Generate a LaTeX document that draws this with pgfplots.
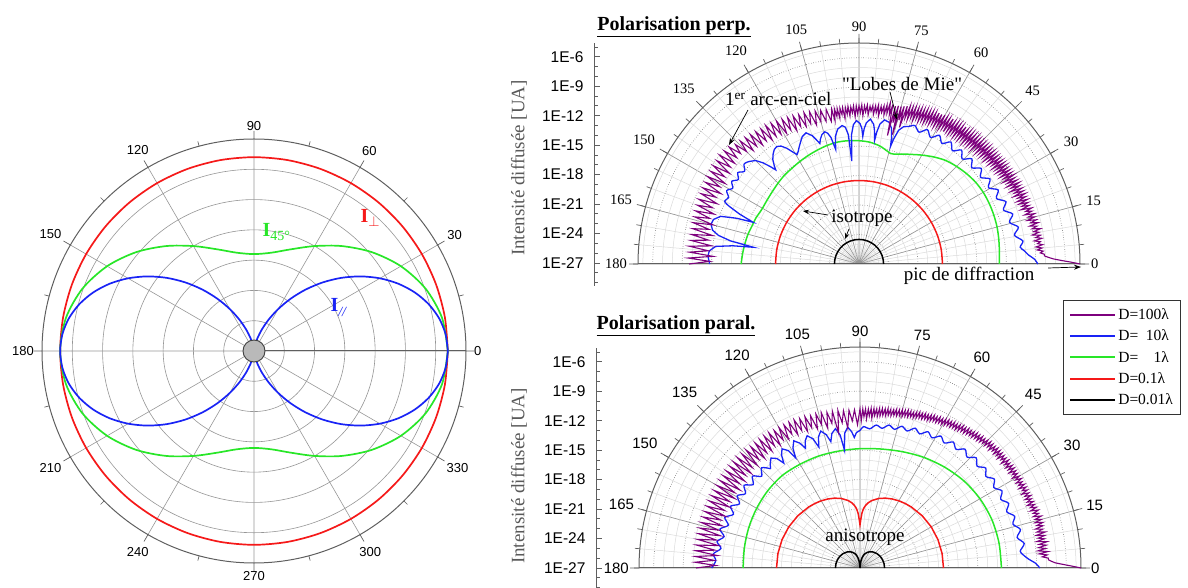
\documentclass[border=0pt]{standalone}
\usepackage{pgfplots}
\pgfplotsset{compat=1.18}
\usepgfplotslibrary{polar}
\usetikzlibrary{arrows.meta}
\usepackage{fontspec}
\setmainfont{Liberation Serif}
\newfontfamily\arial{Liberation Sans}
\definecolor{cPurple}{RGB}{125,0,125}
\definecolor{cBlue}{RGB}{25,35,245}
\definecolor{cGreen}{RGB}{40,230,40}
\definecolor{cRed}{RGB}{245,25,25}
\definecolor{cGrid}{RGB}{150,150,150}
\definecolor{cLight}{RGB}{218,218,218}
\definecolor{cAxis}{RGB}{95,95,95}
\pgfplotsset{
  halfpolar/.style={
    scale only axis, width=442pt, height=442pt, anchor=origin,
    xmin=0, xmax=180, ymin=0, ymax=22.5,
    xtick={0,15,...,180}, minor xtick={0,5,...,180},
    ytick={3,6,...,21}, minor ytick={1,2,4,5,7,8,10,11,13,14,16,17,19,20,22},
    yticklabel style={opacity=0, text opacity=0},
    grid=both,
    major x grid style={draw=cGrid, line width=0.6pt},
    minor x grid style={draw=cLight, line width=0.5pt},
    major y grid style={draw=black!65, dotted, line width=0.7pt},
    minor y grid style={draw=cLight, line width=0.5pt},
    axis line style={draw=cAxis, line width=1pt},
    tick align=inside, major tick length=9pt, minor tick length=5pt,
    xtick style={draw=cAxis, line width=0.7pt},
    ytick style={draw=none},
    /pgf/number format/assume math mode=true,
    clip=false,
  },
  logaxis/.style={
    anchor=south west, scale only axis, width=20pt,
    xmin=0, xmax=1,
    axis x line=none, axis y line=left,
    y axis line style={-, draw=cAxis, line width=0.8pt},
    ytick={-27,-24,...,-6},
    yticklabels={1E-27,1E-24,1E-21,1E-18,1E-15,1E-12,1E-9,1E-6},
    minor ytick={-29,...,-5},
    tick align=inside, major tick length=6pt, minor tick length=3.5pt,
    ytick style={draw=cAxis, line width=0.8pt},
    yticklabel style={font=\arial\fontsize{15.5}{15.5}\selectfont, xshift=-7pt},
  },
}
\begin{document}
\begin{tikzpicture}[x=1pt,y=1pt]
\path[use as bounding box] (0,0) rectangle (1188,588);

% ---------------- left polar ----------------
\begin{polaraxis}[
  at={(254pt,237pt)}, anchor=origin, scale only axis, width=424pt, height=424pt,
  ymin=0, ymax=7, ytick={1,...,6}, yticklabel style={opacity=0, text opacity=0}, ytick style={draw=none},
  xtick={0,30,...,330}, minor xtick={15,45,...,345},
  grid=major, major grid style={draw=cGrid, line width=0.6pt},
  axis line style={draw=cAxis, line width=1pt},
  tick align=inside, major tick length=8pt, minor tick length=5pt,
  xtick style={draw=cAxis, line width=0.7pt},
  xticklabel style={font=\arial\fontsize{13}{13}\selectfont, inner sep=8pt},
  /pgf/number format/assume math mode=true,
]
\addplot[cRed, line width=1.7pt, smooth] coordinates {(0,6.4)(10,6.4)(20,6.4)(30,6.4)(40,6.4)(50,6.4)(60,6.4)(70,6.4)(80,6.4)(90,6.4)(100,6.4)(110,6.4)(120,6.4)(130,6.4)(140,6.4)(150,6.4)(160,6.4)(170,6.4)(180,6.4)(190,6.4)(200,6.4)(210,6.4)(220,6.4)(230,6.4)(240,6.4)(250,6.4)(260,6.4)(270,6.4)(280,6.4)(290,6.4)(300,6.4)(310,6.4)(320,6.4)(330,6.4)(340,6.4)(350,6.4)(360,6.4)};
\addplot[cGreen, line width=1.7pt, smooth] coordinates {(0,6.4)(10,6.304)(20,6.026)(30,5.6)(40,5.078)(50,4.522)(60,4.0)(70,3.574)(80,3.296)(90,3.2)(100,3.296)(110,3.574)(120,4.0)(130,4.522)(140,5.078)(150,5.6)(160,6.026)(170,6.304)(180,6.4)(190,6.304)(200,6.026)(210,5.6)(220,5.078)(230,4.522)(240,4.0)(250,3.574)(260,3.296)(270,3.2)(280,3.296)(290,3.574)(300,4.0)(310,4.522)(320,5.078)(330,5.6)(340,6.026)(350,6.304)(360,6.4)};
\addplot[cBlue, line width=1.7pt, smooth] coordinates {(0,6.4)(5,6.351)(10,6.207)(15,5.971)(20,5.651)(25,5.257)(30,4.8)(35,4.294)(40,3.756)(45,3.2)(50,2.644)(55,2.106)(60,1.6)(65,1.143)(70,0.749)(75,0.429)(80,0.193)(85,0.049)(90,0)(95,0.049)(100,0.193)(105,0.429)(110,0.749)(115,1.143)(120,1.6)(125,2.106)(130,2.644)(135,3.2)(140,3.756)(145,4.294)(150,4.8)(155,5.257)(160,5.651)(165,5.971)(170,6.207)(175,6.351)(180,6.4)(185,6.351)(190,6.207)(195,5.971)(200,5.651)(205,5.257)(210,4.8)(215,4.294)(220,3.756)(225,3.2)(230,2.644)(235,2.106)(240,1.6)(245,1.143)(250,0.749)(255,0.429)(260,0.193)(265,0.049)(270,0)(275,0.049)(280,0.193)(285,0.429)(290,0.749)(295,1.143)(300,1.6)(305,2.106)(310,2.644)(315,3.2)(320,3.756)(325,4.294)(330,4.8)(335,5.257)(340,5.651)(345,5.971)(350,6.207)(355,6.351)(360,6.4)};
\addplot[only marks, mark=*, mark size=11pt, mark options={fill=gray!55, draw=black!75, line width=0.9pt}] coordinates {(0,0)};
\end{polaraxis}
\node[anchor=base west, text=cRed, font=\fontsize{20}{20}\selectfont\bfseries] at (357,365) {I$_{\perp}$};
\node[anchor=base west, text=cGreen, font=\fontsize{20}{20}\selectfont\bfseries] at (259,351) {I\raisebox{-0.4ex}{\fontsize{14}{14}\selectfont\mdseries 45°}};
\node[anchor=base west, text=cBlue, font=\fontsize{20}{20}\selectfont\bfseries] at (327,276) {I\raisebox{-0.45ex}{\fontsize{14}{14}\selectfont\mdseries\itshape //}};

% ---------------- top right: perpendicular ----------------
\begin{polaraxis}[halfpolar, at={(859pt,324pt)},
  xticklabel style={font=\fontsize{14.5}{14.5}\selectfont, inner sep=11pt}]
\addplot[black, line width=1.5pt, smooth] coordinates {(0,2.5)(10,2.5)(20,2.5)(30,2.5)(40,2.5)(50,2.5)(60,2.5)(70,2.5)(80,2.5)(90,2.5)(100,2.5)(110,2.5)(120,2.5)(130,2.5)(140,2.5)(150,2.5)(160,2.5)(170,2.5)(180,2.5)};
\addplot[cRed, line width=1.5pt, smooth] coordinates {(0,8.5)(10,8.5)(20,8.5)(30,8.5)(40,8.5)(50,8.5)(60,8.5)(70,8.5)(80,8.5)(90,8.5)(100,8.5)(110,8.5)(120,8.5)(130,8.5)(140,8.5)(150,8.5)(160,8.5)(170,8.5)(180,8.5)};
\addplot[cGreen, line width=1.5pt, smooth] coordinates {(0,14.3)(5,14.35)(10,14.45)(15,14.55)(20,14.6)(25,14.62)(30,14.6)(35,14.5)(40,14.3)(45,14.05)(50,13.75)(55,13.3)(60,12.8)(63,12.5)(67,12.15)(70,11.9)(72,11.75)(74,11.7)(76,11.85)(80,12.2)(85,12.45)(90,12.55)(95,12.6)(100,12.6)(105,12.5)(110,12.35)(115,12.2)(120,12.05)(125,11.9)(130,11.8)(135,11.65)(140,11.5)(145,11.4)(150,11.35)(153,11.4)(156,11.5)(160,11.55)(165,11.7)(170,11.8)(175,11.9)(180,12.0)};
\addplot[cBlue, line width=1.3pt, smooth] coordinates {(0,18.2)(1.5,17.9)(3,17.3)(4.5,16.9)(6,16.5)(8,16.85)(10.5,16.1)(13,16.65)(15.5,15.9)(18,16.45)(20.5,15.7)(23,16.25)(25.5,15.5)(28,16.05)(30.5,15.3)(33,15.9)(35.5,15.2)(38,15.8)(40.5,15.1)(43,15.7)(45.5,15.0)(48,15.6)(50.5,14.95)(53,15.55)(55.5,14.9)(58,15.45)(60.5,14.8)(63,15.35)(65.5,14.75)(68,15.2)(70,14.9)};
\addplot[cBlue, line width=1.3pt] coordinates {(70,14.9)(72,14.7)(73.5,14.2)(74.5,13.2)(75,12.4)(75.5,13.2)(76.5,14.2)(78,14.75)(80,14.9)(81.5,14.4)(82.3,13.6)(82.8,12.7)(83.3,13.6)(84,14.3)(85.5,14.8)(87,14.4)(87.8,13.8)(88.3,13.0)(88.8,13.8)(89.6,14.3)(91,14.6)(92.3,14.2)(93.3,13.2)(94,10.5)(94.7,13.2)(95.7,14.0)(97,14.2)(99,13.9)(100.5,13.2)(101.5,11.9)(102.5,13.2)(103.5,13.7)(104.5,13.9)(106,13.7)(107.2,13.3)(108,12.9)(108.8,13.3)(110,13.9)(112,14.4)(114,14.2)(115.5,13.8)(117,13.4)(118.5,13.0)(119.5,12.8)(120.5,13.2)(122,13.9)(123.5,14.4)(125,14.6)(126.5,14.5)(128,14.2)(129.5,13.8)(130.8,13.2)(131.5,12.8)(132.3,13.4)(133.5,14.2)(135,14.9)(137,15.3)};
\addplot[cBlue, line width=1.3pt, smooth] coordinates {(137,15.3)(139,15.5)(141,15.0)(143,15.45)(145,15.0)(147,15.45)(149,15.0)(151,15.4)(153,14.9)(155,15.1)(156,14.5)};
\addplot[cBlue, line width=1.3pt] coordinates {(156,14.5)(157.3,13.2)(158.5,11.6)(159.5,13.3)(161,14.9)(163,15.5)(165,15.6)(167,15.3)(168.5,14.6)(169.8,13.3)(171,10.9)(171.8,13.0)(173,14.7)(175,15.3)(177,15.4)(180,15.2)};
\addplot[cPurple, line width=1.1pt] coordinates {(0,22.5)(0.5,21.6)(1,20.6)(1.5,19.8)(2,19.3)(2.5,18.9)(3,18.9)(3.5,18.5)(4,18.8)(4.5,18.2)(5,18.7)(5.5,18.1)(6,18.8)(6.5,18.3)(7,18.6)(7.5,18.0)(8,18.8)(8.5,18.2)(9,18.7)(9.5,17.9)(10,18.6)(10.5,18.1)(11,18.8)(11.5,18.0)(12,18.5)(12.5,17.8)(13,18.7)(13.5,18.0)(14,18.6)(14.5,17.7)(15,18.5)(15.5,17.9)(16,18.6)(16.5,17.6)(17,18.4)(17.5,17.8)(18,18.5)(18.5,17.4)(19,18.3)(19.5,17.6)(20,18.3)
(20.5,17.4)(21,18.4)(21.5,17.3)(22,18.3)(22.5,17.5)(23,18.4)(23.5,17.2)(24,18.3)(24.5,17.4)(25,18.3)(25.5,17.1)(26,18.2)(26.5,17.3)(27,18.3)(27.5,17.0)(28,18.2)(28.5,17.2)(29,18.1)(29.5,16.9)(30,18.2)(30.5,17.1)(31,18.1)(31.5,16.9)(32,18.1)(32.5,17.0)(33,18.0)(33.5,16.8)(34,18.1)(34.5,16.9)(35,18.0)(35.5,16.7)(36,18.0)(36.5,16.9)(37,17.9)(37.5,16.6)(38,17.9)(38.5,16.8)(39,17.9)(39.5,16.5)(40,17.9)(40.5,16.7)(41,17.8)(41.5,16.5)(42,17.9)(42.5,16.6)(43,17.8)(43.5,16.4)(44,17.8)(44.5,16.6)(45,17.8)(45.5,16.3)(46,17.7)(46.5,16.5)(47,17.8)(47.5,16.3)(48,17.7)(48.5,16.4)(49,17.7)(49.5,16.2)(50,17.7)(50.5,16.4)(51,17.6)(51.5,16.2)(52,17.7)(52.5,16.3)(53,17.6)(53.5,16.1)(54,17.6)(54.5,16.3)(55,17.6)(55.5,16.1)(56,17.5)(56.5,16.2)(57,17.6)(57.5,16.0)(58,17.5)(58.5,16.2)(59,17.5)(59.5,16.0)(60,17.5)(60.5,16.1)(61,17.4)(61.5,15.9)(62,17.4)(62.5,16.1)(63,17.3)(63.5,15.9)(64,17.3)(64.5,16.0)(65,17.2)(65.5,15.8)(66,17.2)(66.5,15.9)(67,17.1)(67.5,15.7)(68,17.1)(68.5,15.9)(69,17.0)(69.5,15.6)(70,17.0)(70.5,15.8)(71,16.9)(71.5,15.5)(72,16.9)(72.5,15.6)(73,16.8)
(73.5,14.5)(74,16.7)(74.5,15.2)(75,16.6)(75.5,13.6)(76,16.6)(76.5,14.8)(77,16.5)(77.5,13.4)(78,16.6)(78.5,15.5)(79,16.7)(79.5,15.6)(80,16.4)
(80.5,15.4)(81,16.3)(81.5,15.6)(82,16.2)(82.5,15.2)(83,16.3)(83.5,15.5)(84,16.2)(84.5,15.3)(85,16.2)(85.5,15.6)(86,16.1)(86.5,15.2)(87,16.2)(87.5,15.5)(88,16.1)(88.5,15.1)(89,16.2)(89.5,15.4)(90,16.1)(90.5,15.3)(91,16.1)(91.5,15.0)(92,16.1)(92.5,15.4)(93,16.0)(93.5,15.1)(94,16.1)(94.5,15.3)(95,16.0)(95.5,14.9)(96,16.0)(96.5,15.3)(97,16.0)(97.5,15.0)(98,16.0)(98.5,15.2)(99,16.0)(99.5,14.8)(100,16.0)
(101,14.8)(102,16.1)(103,14.9)(104,16.1)(105,15.0)(106,16.2)(107,14.8)(108,16.3)(109,15.1)(110,16.4)(111,15.0)(112,16.4)(113,15.2)(114,16.5)(115,15.0)(116,16.6)(117,15.3)(118,16.7)(119,15.2)(120,16.8)(121,15.4)(122,16.9)(123,15.5)(124,17.0)(125,15.4)(126,17.0)(127,15.7)(128,17.1)(129,15.6)(130,17.2)(131,15.9)(132,17.3)(133,15.8)(134,17.4)(135,16.2)(136,17.5)(137,16.5)(138,17.8)
(139,16.5)(140,17.9)(141,16.3)(142,18.0)(143,16.4)(144,17.9)(145,16.1)(146,17.9)(147,16.3)(148,17.8)(149,15.9)(150,17.8)(151,16.2)(152,17.7)(153,15.8)(154,17.7)(155,16.1)(156,17.6)(157,15.7)(158,17.6)(159,16.0)(160,17.5)(161,15.6)(162,17.5)(163,15.9)(164,17.4)(165,15.4)(166,17.4)(167,15.7)(168,17.3)(169,15.2)(170,17.3)(171,15.5)(172,17.3)(173,15.1)(174,17.4)(175,15.4)(176,17.3)(177,14.9)(178,17.4)(179,15.2)(180,17.3)};
\end{polaraxis}

% ---------------- bottom right: parallel ----------------
\begin{polaraxis}[halfpolar, at={(860pt,20pt)},
  xticklabel style={font=\arial\fontsize{15}{15}\selectfont, inner sep=10pt}]
\addplot[black, line width=1.5pt] coordinates {(0,2.5)(10,2.487)(20,2.446)(30,2.375)(40,2.269)(50,2.116)(55,2.017)(60,1.898)(65,1.752)(70,1.568)(75,1.326)(80,0.979)(83,0.672)(85,0.381)(86,0.187)(87,0)(90,0)(93,0)(94,0.187)(95,0.381)(97,0.672)(100,0.979)(105,1.326)(110,1.568)(115,1.752)(120,1.898)(125,2.017)(130,2.116)(140,2.269)(150,2.375)(160,2.446)(170,2.487)(180,2.5)};
\addplot[cRed, line width=1.5pt] coordinates {(0,8.5)(10,8.487)(20,8.446)(30,8.375)(40,8.269)(50,8.116)(55,8.017)(60,7.898)(65,7.752)(70,7.568)(75,7.326)(80,6.979)(83,6.672)(85,6.381)(86,6.187)(87,5.937)(88,5.586)(89,4.984)(90,4.4)(91,4.984)(92,5.586)(93,5.937)(94,6.187)(95,6.381)(97,6.672)(100,6.979)(105,7.326)(110,7.568)(115,7.752)(120,7.898)(125,8.017)(130,8.116)(140,8.269)(150,8.375)(160,8.446)(170,8.487)(180,8.5)};
\addplot[cGreen, line width=1.5pt, smooth] coordinates {(0,14.4)(10,14.38)(20,14.3)(30,14.1)(40,13.8)(50,13.4)(60,13.0)(70,12.6)(80,12.3)(90,12.15)(100,12.1)(110,12.15)(120,12.2)(130,12.3)(140,12.25)(150,12.15)(160,12.05)(170,11.95)(180,11.9)};
\addplot[cBlue, line width=1.3pt, smooth] coordinates {(0,18.3)(1.5,17.9)(3,17.2)(4.5,16.7)(6,16.4)(8.5,16.9)(11,16.3)(13.5,16.8)(16,16.2)(18.5,16.6)(21,16.0)(23.5,16.5)(26,15.95)(28.5,16.45)(31,15.9)(33.5,16.4)(36,15.85)(38.5,16.35)(41,15.8)(43.5,16.3)(46,15.7)(48.5,16.15)(51,15.55)(53.5,15.95)(56,15.35)(58.5,15.75)(61,15.15)(63.5,15.5)(66,14.95)(68.5,15.3)(71,14.75)(73.5,15.05)(76,14.55)(78.5,14.85)(81,14.4)(83.5,14.65)(86,14.2)(88.5,14.4)(90,14.0)};
\addplot[cBlue, line width=1.3pt] coordinates {(90,14.0)(91.5,13.8)(92.5,13.3)(93.5,13.9)(95,14.4)(96.5,13.8)(97.5,12.1)(98.5,13.7)(100,14.4)(101.8,14.0)(103,13.2)(104.2,14.0)(106,14.5)(107.6,14.0)(108.8,13.0)(110,14.0)(111.8,14.5)(113.3,14.1)(114.5,13.4)(115.7,14.1)(117.5,14.6)(119.2,14.0)(120.3,13.0)(121.4,14.0)(123.2,14.5)(124.8,14.0)(126,13.2)(127.2,14.0)(129,14.4)(130.8,14.0)(132,13.6)};
\addplot[cBlue, line width=1.3pt, smooth] coordinates {(132,13.6)(134.5,14.3)(137,13.7)(139.5,14.4)(142,13.8)(144.5,14.5)(147,13.9)(149.5,14.5)(152,13.9)(154.5,14.6)(157,14.0)(159.5,14.7)(162,14.1)(164.5,14.8)(167,14.2)(169.5,14.8)(172,14.3)(174.5,15.0)(177,14.7)(180,15.1)};
\addplot[cPurple, line width=1.1pt] coordinates {(0,22.5)(0.5,21.6)(1,20.7)(1.5,19.9)(2,19.5)(2.5,19.2)(3,19.2)(3.5,18.6)(4,19.1)(4.5,18.3)(5,19.2)(5.5,18.2)(6,19.0)(6.5,18.3)(7,19.1)(7.5,18.4)(8,19.2)(8.5,18.2)(9,19.0)(9.5,18.4)(10,19.1)(10.5,18.3)(11,19.2)(11.5,18.4)(12,19.0)(12.5,18.3)(13,19.1)(13.5,18.5)(14,19.2)(14.5,18.4)(15,19.1)(15.5,18.5)(16,19.2)(16.5,18.4)(17,19.0)(17.5,18.5)(18,19.1)(18.5,18.3)(19,19.0)(19.5,18.4)(20,18.9)
(20.5,18.2)(21,18.9)(21.5,18.3)(22,18.8)(22.5,18.2)(23,18.9)(23.5,18.3)(24,18.8)(24.5,18.1)(25,18.8)(25.5,18.3)(26,18.8)(26.5,18.1)(27,18.8)(27.5,18.2)(28,18.7)(28.5,18.1)(29,18.8)(29.5,18.2)(30,18.7)(30.5,18.0)(31,18.7)(31.5,18.2)(32,18.7)(32.5,18.0)(33,18.7)(33.5,18.1)(34,18.7)(34.5,18.0)(35,18.6)(35.5,18.1)(36,18.7)(36.5,17.9)(37,18.6)(37.5,18.1)(38,18.6)(38.5,17.9)(39,18.6)(39.5,18.0)(40,18.6)(40.5,17.9)(41,18.6)(41.5,18.0)(42,18.5)(42.5,17.8)(43,18.5)(43.5,17.9)(44,18.5)(44.5,17.8)(45,18.4)
(45.5,17.8)(46,18.3)(46.5,17.7)(47,18.3)(47.5,17.6)(48,18.2)(48.5,17.6)(49,18.2)(49.5,17.5)(50,18.1)(50.5,17.5)(51,18.0)(51.5,17.4)(52,18.0)(52.5,17.3)(53,17.9)(53.5,17.3)(54,17.9)(54.5,17.2)(55,17.8)(55.5,17.1)(56,17.7)(56.5,17.1)(57,17.7)(57.5,17.0)(58,17.6)(58.5,17.0)(59,17.6)(59.5,16.9)(60,17.5)(60.5,16.8)(61,17.4)(61.5,16.8)(62,17.4)(62.5,16.7)(63,17.3)(63.5,16.7)(64,17.3)(64.5,16.6)(65,17.2)(65.5,16.5)(66,17.1)(66.5,16.5)(67,17.1)(67.5,16.4)(68,17.0)(68.5,16.4)(69,17.0)(69.5,16.3)(70,16.9)
(70.5,16.2)(71,16.8)(71.5,16.2)(72,16.8)(72.5,16.1)(73,16.8)(73.5,16.1)(74,16.7)(74.5,16.0)(75,16.7)(75.5,16.0)(76,16.6)(76.5,15.9)(77,16.6)(77.5,15.9)(78,16.5)(78.5,15.8)(79,16.5)(79.5,15.8)(80,16.5)(80.5,15.7)(81,16.4)(81.5,15.7)(82,16.4)(82.5,15.6)(83,16.4)(83.5,15.5)(84,16.3)(84.5,15.6)(85,16.3)(85.5,15.3)(86,16.3)(86.5,15.5)(87,16.2)(87.5,15.2)(88,16.2)(88.5,15.4)(89,16.2)(89.5,15.0)(90,16.2)
(91,14.6)(92,16.1)(93,15.0)(94,16.1)(95,14.3)(96,16.1)(97,14.9)(98,16.2)(99,13.9)(100,16.2)(101,15.0)(102,16.2)(103,14.6)(104,16.3)(105,15.1)(106,16.3)(107,14.8)(108,16.3)(109,15.1)(110,16.4)(111,14.9)(112,16.4)(113,15.2)(114,16.5)(115,15.0)(116,16.5)(117,15.3)(118,16.5)(119,15.0)(120,16.5)(121,15.2)(122,16.5)(123,14.9)(124,16.6)(125,15.2)(126,16.6)(127,14.9)(128,16.6)(129,15.1)(130,16.6)(131,14.8)(132,16.6)(133,15.1)(134,16.7)(135,14.8)(136,16.7)(137,15.0)(138,16.8)(139,14.7)(140,16.8)(141,15.0)(142,16.8)(143,14.7)(144,16.8)(145,15.0)(146,16.8)(147,14.6)(148,16.8)(149,14.9)(150,16.8)(151,14.6)(152,16.8)(153,14.9)(154,16.8)(155,14.7)(156,16.8)(157,15.0)(158,16.8)(159,14.7)(160,16.8)(161,15.0)(162,16.8)(163,14.7)(164,16.8)(165,14.9)(166,16.8)(167,14.6)(168,16.8)(169,14.9)(170,16.8)(171,14.6)(172,16.8)(173,14.9)(174,16.8)(175,14.6)(176,16.8)(177,14.9)(178,16.8)(179,14.7)(180,16.7)};
\end{polaraxis}

% ---------------- log scales ----------------
\begin{axis}[logaxis, at={(594pt,302pt)}, height=243pt, ymin=-29.34, ymax=-4.6]
\end{axis}
\begin{axis}[logaxis, at={(596pt,0pt)}, height=240pt, ymin=-29.04, ymax=-4.6]
\end{axis}

% ---------------- legend ----------------
\begin{axis}[at={(1063pt,288pt)}, anchor=north west, hide axis, scale only axis,
  width=5pt, height=5pt, xmin=0, xmax=1, ymin=0, ymax=1,
  legend style={at={(0,1)}, anchor=north west, draw=black!80, line width=0.8pt,
    font=\fontsize{15.5}{17}\selectfont, cells={anchor=west}, row sep=5pt,
    inner xsep=6pt, inner ysep=6pt},
  legend image code/.code={\draw[#1] (0pt,0pt) -- (45pt,0pt);},
]
\addlegendimage{draw=cPurple, line width=1.9pt}\addlegendentry{D=100λ}
\addlegendimage{draw=cBlue, line width=1.9pt}\addlegendentry{D=\phantom{1}10λ}
\addlegendimage{draw=cGreen, line width=1.9pt}\addlegendentry{D=\phantom{10}1λ}
\addlegendimage{draw=cRed, line width=1.9pt}\addlegendentry{D=0.1λ}
\addlegendimage{draw=black, line width=1.9pt}\addlegendentry{D=0.01λ}
\end{axis}

% ---------------- texts ----------------
\node[rotate=90, text=black!65, font=\fontsize{19}{19}\selectfont] at (519,420) {Intensité diffusée [UA]};
\node[rotate=90, text=black!65, font=\fontsize{19}{19}\selectfont] at (519,112) {Intensité diffusée [UA]};
\node[font=\fontsize{20}{20}\selectfont\bfseries] at (674,561) {\underline{Polarisation perp.}};
\node[font=\fontsize{20}{20}\selectfont\bfseries] at (676,262) {\underline{Polarisation paral.}};
\node[anchor=west, font=\fontsize{19}{19}\selectfont, inner sep=0pt] at (725,489) {1\textsuperscript{er} arc-en-ciel};
\draw[-{Stealth[length=7pt,width=5pt]}, line width=0.7pt] (748,478) -- (729,443);
\node[font=\fontsize{19}{19}\selectfont] at (902,504) {\textquotedbl Lobes de Mie\textquotedbl};
\draw[-{Stealth[length=7pt,width=5pt]}, line width=0.7pt] (890,496) -- (897,468);
\node[font=\fontsize{19}{19}\selectfont] at (862,370) {isotrope};
\draw[-{Stealth[length=6pt,width=4.5pt]}, line width=0.7pt] (828,373) -- (803,377);
\draw[-{Stealth[length=6pt,width=4.5pt]}, line width=0.7pt] (849,359) -- (845,349);
\node[font=\fontsize{19}{19}\selectfont] at (969,312) {pic de diffraction};
\draw[-{Stealth[length=7pt,width=5pt]}, line width=0.7pt] (1048,320) -- (1081,321);
\node[font=\fontsize{19}{19}\selectfont] at (865,51) {anisotrope};
\end{tikzpicture}
\end{document}
